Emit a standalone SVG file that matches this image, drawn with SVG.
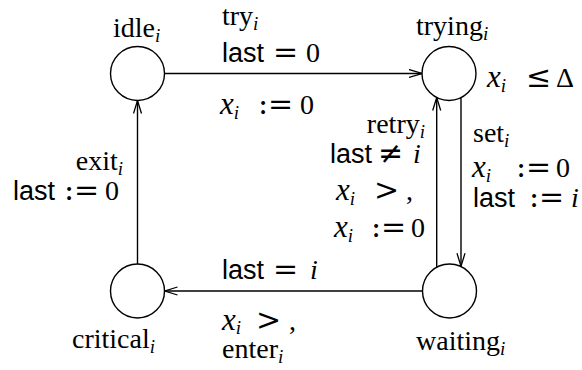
<svg xmlns="http://www.w3.org/2000/svg" width="582" height="370" viewBox="0 0 582 370">
<style>
.t{font-family:"Liberation Serif",serif;font-size:28px;fill:#000}
.sf{font-family:"Liberation Sans",sans-serif;font-size:27px;font-style:normal}
.it{font-style:italic}
.mx{font-style:italic;font-size:31px}
.op{font-family:"DejaVu Serif",serif;font-size:30px;font-style:normal}
.sub{font-size:19px;font-style:italic}
.node{fill:#fff;stroke:#000;stroke-width:1.4}
.edge{fill:none;stroke:#000;stroke-width:1.4;marker-end:url(#ah)}
</style>
<defs>
<marker id="ah" viewBox="0 0 13 10" refX="13" refY="5" markerWidth="13" markerHeight="10" markerUnits="userSpaceOnUse" orient="auto">
<path d="M0,1 L13,5 L0,9" fill="none" stroke="#000" stroke-width="1.3"/>
</marker>
</defs>
<g id="connectors">
<path class="edge" d="M164.5,73.5 L422,73.5"/>
<path class="edge" d="M137.5,264 L137.5,100.5"/>
<path class="edge" d="M422.5,291 L164.5,291"/>
<path class="edge" d="M436.7,267 L436.7,97.5"/>
<path class="edge" d="M461,98 L461,266.3"/>
</g>
<g id="idle">
<circle class="node" cx="137.5" cy="73.5" r="27"/>
<text class="t" x="113" y="37">idle<tspan class="sub" dy="5">i</tspan></text>
</g>
<g id="trying">
<circle class="node" cx="449" cy="73.5" r="27"/>
<text class="t" x="416" y="35">trying<tspan class="sub" dy="5">i</tspan></text>
<text class="t" x="487" y="87"><tspan class="mx">x</tspan><tspan class="sub" dy="5">i</tspan><tspan class="op" x="526" dy="-5">≤</tspan><tspan x="556">Δ</tspan></text>
</g>
<g id="critical">
<circle class="node" cx="137.5" cy="291" r="27"/>
<text class="t" x="72" y="348">critical<tspan class="sub" dy="5">i</tspan></text>
</g>
<g id="waiting">
<circle class="node" cx="449.5" cy="291" r="27"/>
<text class="t" x="416" y="350">waiting<tspan class="sub" dy="5">i</tspan></text>
</g>
<g id="labels">
<text class="t" x="222" y="25">try<tspan class="sub" dy="5">i</tspan></text>
<text class="t" x="222" y="62"><tspan class="sf">last</tspan><tspan class="op" x="273">=</tspan><tspan x="306">0</tspan></text>
<text class="t" x="220" y="114"><tspan class="mx">x</tspan><tspan class="sub" dy="5">i</tspan><tspan class="op" x="258" dy="-5">:=</tspan><tspan x="300">0</tspan></text>

<text class="t" x="123" y="170" text-anchor="end">exit<tspan class="sub" dy="5">i</tspan></text>
<text class="t" x="13" y="200"><tspan class="sf">last</tspan><tspan class="op" x="64">:=</tspan><tspan x="105">0</tspan></text>

<text class="t" x="425" y="133" text-anchor="end">retry<tspan class="sub" dy="5">i</tspan></text>
<text class="t" x="330" y="163"><tspan class="sf">last</tspan><tspan class="op" x="378">≠</tspan><tspan class="it" x="413">i</tspan></text>
<text class="t" x="336" y="200"><tspan class="mx">x</tspan><tspan class="sub" dy="5">i</tspan><tspan class="op" x="374" dy="-5">&gt;</tspan><tspan x="406">,</tspan></text>
<text class="t" x="334" y="237"><tspan class="mx">x</tspan><tspan class="sub" dy="5">i</tspan><tspan class="op" x="371" dy="-5">:=</tspan><tspan x="411">0</tspan></text>

<text class="t" x="473" y="142">set<tspan class="sub" dy="5">i</tspan></text>
<text class="t" x="472" y="177"><tspan class="mx">x</tspan><tspan class="sub" dy="5">i</tspan><tspan class="op" x="516" dy="-5">:=</tspan><tspan x="556">0</tspan></text>
<text class="t" x="473" y="207"><tspan class="sf">last</tspan><tspan class="op" x="529">:=</tspan><tspan class="it" x="571">i</tspan></text>

<text class="t" x="222" y="279"><tspan class="sf">last</tspan><tspan class="op" x="273">=</tspan><tspan class="it" x="310">i</tspan></text>
<text class="t" x="222" y="330"><tspan class="mx">x</tspan><tspan class="sub" dy="4">i</tspan><tspan class="op" x="256" dy="-4">&gt;</tspan><tspan x="289">,</tspan></text>
<text class="t" x="222" y="358">enter<tspan class="sub" dy="5">i</tspan></text>
</g>
</svg>
